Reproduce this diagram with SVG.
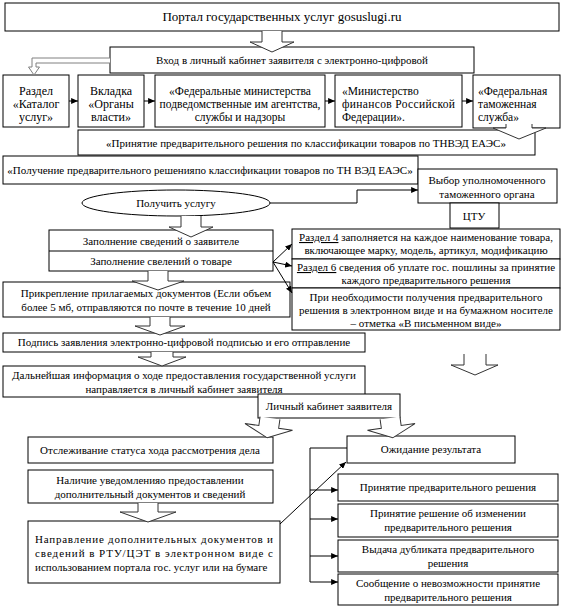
<svg xmlns="http://www.w3.org/2000/svg" width="564" height="607" viewBox="0 0 564 607">
<style>
.b{fill:#fff;stroke:#000;stroke-width:1}
.t{font-family:"Liberation Serif","Times New Roman",serif;font-size:11px;fill:#000}
.c{text-anchor:middle}
.ha{fill:#fff;stroke:#333;stroke-width:1}
.ln{fill:none;stroke:#000;stroke-width:1}
.u{text-decoration:underline}
</style>
<defs>
<marker id="ah" viewBox="0 0 8 7" refX="8" refY="3.5" markerWidth="7" markerHeight="6" markerUnits="userSpaceOnUse" orient="auto"><path d="M0,0L8,3.5L0,7z" fill="#000"/></marker>
<path id="hd" d="M-10,0V11H-22L0,21L22,11H10V0" class="ha"/>
</defs>
<rect width="564" height="607" fill="#fff"/>

<g id="n-portal"><rect class="b" x="5" y="3" width="554" height="28"/><text class="t c" x="282" y="21" style="font-size:13px">Портал государственных услуг gosuslugi.ru</text></g>
<g id="n-vhod"><rect class="b" x="110" y="47" width="364" height="26"/><text class="t c" x="292" y="64">Вход в личный кабинет заявителя с электронно-цифровой</text></g>
<g id="n-razdel"><rect class="b" x="3" y="75" width="66" height="52"/><text class="t c" style="font-size:12px"><tspan x="36" y="95">Раздел</tspan><tspan x="36" y="108">«Каталог</tspan><tspan x="36" y="121">услуг»</tspan></text></g>
<g id="n-vkladka"><rect class="b" x="78" y="75" width="66" height="52"/><text class="t c" style="font-size:12px"><tspan x="111" y="95">Вкладка</tspan><tspan x="111" y="108">«Органы</tspan><tspan x="111" y="121">власти»</tspan></text></g>
<g id="n-fedmin"><rect class="b" x="155" y="75" width="170" height="52"/><text class="t c" style="font-size:11.5px"><tspan x="240" y="95">«Федеральные министерства</tspan><tspan x="240" y="108">подведомственные им агентства,</tspan><tspan x="240" y="121">службы и надзоры</tspan></text></g>
<g id="n-minfin"><rect class="b" x="335" y="75" width="127" height="52"/><text class="t" style="font-size:11.5px"><tspan x="342" y="95">«Министерство</tspan><tspan x="342" y="108" textLength="113" lengthAdjust="spacing">финансов Российской</tspan><tspan x="342" y="121">Федерации».</tspan></text></g>
<g id="n-fts"><rect class="b" x="473" y="75" width="87" height="53"/><text class="t" style="font-size:11.5px"><tspan x="478" y="95">«Федеральная</tspan><tspan x="478" y="108">таможенная</tspan><tspan x="478" y="121">служба»</tspan></text></g>
<g id="n-prinyatie"><rect class="b" x="78" y="130" width="457" height="25"/><text class="t c" x="306" y="147">«Принятие предварительного решения по классификации товаров по ТНВЭД ЕАЭС»</text></g>
<g id="n-poluchenie"><rect class="b" x="3" y="156" width="415" height="28"/><text class="t c" x="210" y="174">«Получение предварительного решенияпо классификации товаров по ТН ВЭД ЕАЭС»</text></g>
<g id="n-vybor"><rect class="b" x="418" y="169" width="139" height="34"/><text class="t c"><tspan x="487" y="184">Выбор уполномоченного</tspan><tspan x="487" y="198">таможенного органа</tspan></text></g>
<g id="n-ctu"><rect class="b" x="450" y="203" width="49" height="25"/><text class="t c" x="474" y="220">ЦТУ</text></g>
<g id="n-uslugu"><ellipse class="b" cx="176" cy="203" rx="94" ry="13"/><text class="t c" x="176" y="207">Получить услугу</text></g>
<g id="n-zapolnenie"><rect class="b" x="49" y="230" width="224" height="41"/><line class="ln" x1="49" y1="251" x2="273" y2="251"/><text class="t c" x="161" y="245">Заполнение сведений о заявителе</text><text class="t c" x="161" y="265">Заполнение свелений о товаре</text></g>
<g id="n-r4"><rect class="b" x="292" y="229" width="268" height="30"/><text class="t c"><tspan x="426" y="241"><tspan class="u">Раздел 4</tspan> заполняется на каждое наименование товара,</tspan><tspan x="426" y="254">включающее марку, модель, артикул, модификацию</tspan></text></g>
<g id="n-r6"><rect class="b" x="292" y="259" width="268" height="29"/><text class="t c"><tspan x="426" y="271"><tspan class="u">Раздел 6</tspan> сведения об уплате гос. пошлины за принятие</tspan><tspan x="426" y="284">каждого предварительного решения</tspan></text></g>
<g id="n-pismenno"><rect class="b" x="292" y="288" width="268" height="42"/><text class="t c"><tspan x="426" y="301">При необходимости получения предварительного</tspan><tspan x="426" y="314">решения в электронном виде и на бумажном носителе</tspan><tspan x="426" y="327">– отметка «В письменном виде»</tspan></text></g>
<g id="n-prikreplenie"><rect class="b" x="3" y="282" width="287" height="35"/><text class="t c"><tspan x="146" y="297">Прикрепление прилагаемых документов (Если объем</tspan><tspan x="146" y="311">более 5 мб, отправляются по почте в течение 10 дней</tspan></text></g>
<g id="n-podpis"><rect class="b" x="3" y="333" width="362" height="19"/><text class="t c" x="184" y="346">Подпись заявления электронно-цифровой подписью и его отправление</text></g>
<g id="n-dalneishaya"><rect class="b" x="3" y="366" width="362" height="31"/><text class="t c"><tspan x="184" y="379">Дальнейшая информация о ходе предоставления государственной услуги</tspan><tspan x="184" y="393">направляется в личный кабинет заявителя</tspan></text></g>
<g id="n-lk"><rect class="b" x="258" y="394" width="142" height="24"/><text class="t c" x="329" y="410">Личный кабинет заявителя</text></g>
<g id="n-otslezh"><rect class="b" x="28" y="437" width="245" height="26"/><text class="t c" x="150" y="454">Отслеживание статуса хода рассмотрения дела</text></g>
<g id="n-nalichie"><rect class="b" x="28" y="470" width="245" height="33"/><text class="t c"><tspan x="150" y="484">Наличие уведомленияо предоставлении</tspan><tspan x="150" y="498">дополнительный документов и сведений</tspan></text></g>
<g id="n-napravlenie"><rect class="b" x="28" y="521" width="252" height="62"/><text class="t"><tspan x="35" y="543" textLength="238" lengthAdjust="spacing">Направление дополнительных документов и</tspan><tspan x="35" y="557" textLength="238" lengthAdjust="spacing">сведений в РТУ/ЦЭТ в электронном виде с</tspan><tspan x="35" y="571">использованием портала гос. услуг или на бумаге</tspan></text></g>
<g id="n-ozhidanie"><rect class="b" x="347" y="436" width="168" height="27"/><text class="t c" x="431" y="453">Ожидание результата</text></g>
<g id="n-res1"><rect class="b" x="338" y="474" width="220" height="27"/><text class="t c" x="448" y="491">Принятие предварительного решения</text></g>
<g id="n-res2"><rect class="b" x="338" y="504" width="220" height="33"/><text class="t c"><tspan x="448" y="517">Принятие решение об изменении</tspan><tspan x="448" y="531">предварительного решения</tspan></text></g>
<g id="n-res3"><rect class="b" x="338" y="540" width="220" height="32"/><text class="t c"><tspan x="448" y="553">Выдача дубликата предварительного</tspan><tspan x="448" y="567">решения</tspan></text></g>
<g id="n-res4"><rect class="b" x="338" y="574" width="220" height="31"/><text class="t c"><tspan x="448" y="587">Сообщение о невозможности принятие</tspan><tspan x="448" y="601">предварительного решения</tspan></text></g>

<g id="connectors">
<use href="#hd" x="272" y="31"/>
<path d="M110,58H32V67H28.5L34,75L39.5,67H36V63H110" fill="#fff" stroke="#808080"/>
<line class="ln" x1="69" y1="101" x2="78" y2="101" marker-end="url(#ah)"/>
<line class="ln" x1="144" y1="101" x2="155" y2="101" marker-end="url(#ah)"/>
<line class="ln" x1="325" y1="101" x2="335" y2="101" marker-end="url(#ah)"/>
<line class="ln" x1="462" y1="101" x2="473" y2="101" marker-end="url(#ah)"/>
<path d="M506,124V128H493L519,139L546,128H532V124" class="ha"/>
<polyline class="ln" points="270,203 357,203 357,190 418,190" stroke="#444" marker-end="url(#ah)"/>
<use href="#hd" x="191" y="216"/>
<line class="ln" x1="273" y1="262" x2="292" y2="244" marker-end="url(#ah)"/>
<line class="ln" x1="273" y1="262" x2="292" y2="266" marker-end="url(#ah)"/>
<line class="ln" x1="273" y1="262" x2="292" y2="293" marker-end="url(#ah)"/>
<path d="M148,271V281H132L158,290L184,281H168V271" class="ha"/>
<path d="M150,317V326H135L160,335L185,326H170V317" class="ha"/>
<path d="M151,352V357H138L162,366L186,357H173V352" class="ha"/>
<path d="M464,354V365H451L475,375L498,365H486V354" class="ha"/>
<g transform="rotate(8 270 418)"><path d="M260,418V427H246L270,438L294,427H280V418" class="ha"/></g>
<g transform="rotate(-8 390 418)"><path d="M380,418V427H366L390,438L414,427H400V418" class="ha"/></g>
<path d="M138,503V512H120L148,522L176,512H158V503" class="ha"/>
<line class="ln" x1="280" y1="524" x2="346" y2="462" marker-end="url(#ah)"/>
<polyline class="ln" points="347,448 310,448 310,582"/>
<line class="ln" x1="310" y1="490" x2="338" y2="490" marker-end="url(#ah)"/>
<line class="ln" x1="310" y1="519" x2="338" y2="519" marker-end="url(#ah)"/>
<line class="ln" x1="310" y1="556" x2="338" y2="556" marker-end="url(#ah)"/>
<line class="ln" x1="310" y1="582" x2="338" y2="582" marker-end="url(#ah)"/>
</g>
</svg>
